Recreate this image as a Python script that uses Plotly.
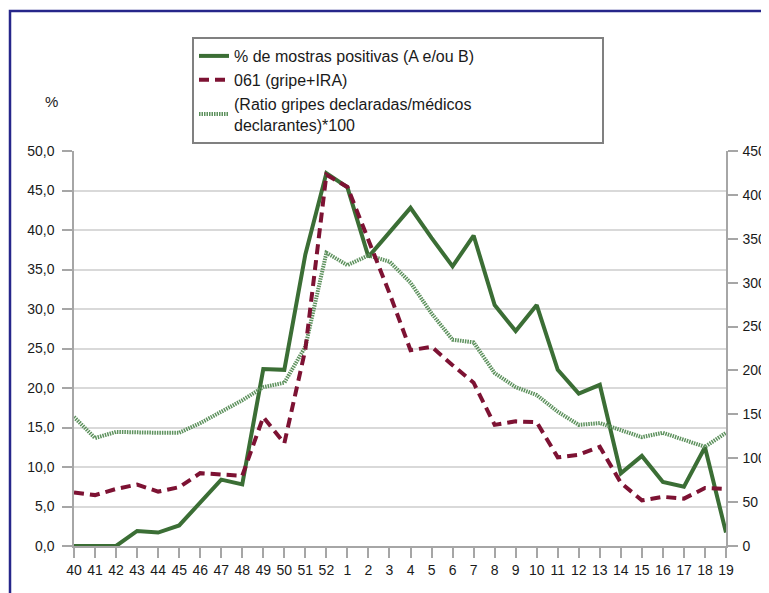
import plotly.graph_objects as go

# semanas epidemiológicas (40..52, 1..19)
weeks = [str(w) for w in range(40, 53)] + [str(w) for w in range(1, 20)]

# % de mostras positivas (eixo esquerdo)
pct_positive = [0.0, 0.0, 0.0, 1.9, 1.7, 2.6, 5.5, 8.4, 7.8, 22.4, 22.3, 36.9,
                47.2, 45.4, 36.6, 39.7, 42.8, 39.0, 35.4, 39.3, 30.5, 27.2, 30.5,
                22.3, 19.3, 20.4, 9.2, 11.4, 8.1, 7.5, 12.5, 1.7]

# 061 (gripe+IRA) (eixo direito)
calls_061 = [61, 58, 65, 70, 62, 67, 83, 82, 80, 147, 117, 224,
             423, 409, 349, 288, 223, 227, 206, 186, 138, 142, 141,
             101, 104, 113, 72, 52, 56, 54, 66, 65]

# (Ratio gripes declaradas/médicos declarantes)*100 (eixo direito)
ratio_gp = [147, 123, 130, 129, 129, 129, 140, 153, 166, 181, 186, 227,
            334, 320, 331, 324, 300, 265, 235, 232, 197, 181, 172,
            153, 138, 140, 132, 124, 129, 121, 113, 129]

x_idx = list(range(len(weeks)))

font_family = "Liberation Sans, Arial, sans-serif"
axis_grey = "#a6a6a6"

# the page body has an 8px margin, so the figure is sized to the visible window
W, H = 761, 585
L, R, T, B = 66, 43, 143, 47
pw, ph = W - L - R, H - T - B


def px_x(x):
    return (x - 8 - L) / pw


def px_y(y):
    return (H - B - (y - 8)) / ph


fig = go.Figure()

fig.add_trace(go.Scatter(x=x_idx, y=pct_positive, mode="lines", yaxis="y",
                         name="% de mostras positivas (A e/ou B)",
                         line=dict(color="#3B6E35", width=4), legendrank=1))
fig.add_trace(go.Scatter(x=x_idx, y=ratio_gp, mode="lines", yaxis="y2",
                         name="(Ratio gripes declaradas/médicos<br>declarantes)*100",
                         line=dict(color="#5d915d", width=4, dash="1.5px,1px"), legendrank=3))
fig.add_trace(go.Scatter(x=x_idx, y=calls_061, mode="lines", yaxis="y2",
                         name="061 (gripe+IRA)",
                         line=dict(color="#7D1233", width=4, dash="10px,6px"), legendrank=2))

fig.update_layout(
    template="none",
    width=W, height=H,
    margin=dict(l=L, r=R, t=T, b=B),
    paper_bgcolor="white", plot_bgcolor="white",
    separators=",.",
    font=dict(family=font_family, size=14, color="#1a1a1a"),
    xaxis=dict(range=[0, 31], tickmode="array", tickvals=x_idx, ticktext=weeks,
               tickangle=0, showgrid=False, zeroline=False, showline=True,
               linecolor=axis_grey, linewidth=1.5, ticks="outside", ticklen=10,
               tickcolor=axis_grey, tickwidth=1.5, automargin=False,
               ticklabelstandoff=0),
    yaxis=dict(range=[0, 50], dtick=5, tickformat=".1f", showgrid=True,
               gridcolor="#d9d9d9", gridwidth=1.5, zeroline=False, showline=True,
               linecolor=axis_grey, linewidth=1.5, ticks="outside", ticklen=10,
               tickcolor=axis_grey, tickwidth=1.5, automargin=False,
               ticklabelstandoff=5),
    yaxis2=dict(range=[0, 450], dtick=50, overlaying="y", side="right",
                showgrid=False, zeroline=False, showline=True,
                linecolor=axis_grey, linewidth=1.5, ticks="outside", ticklen=10,
                tickcolor=axis_grey, tickwidth=1.5, automargin=False,
                ticklabelstandoff=2),
    legend=dict(x=px_x(192), y=px_y(37), xanchor="left", yanchor="top",
                orientation="h", entrywidth=363, entrywidthmode="pixels",
                bgcolor="white", bordercolor="#808080", borderwidth=2,
                font=dict(size=16, color="#1a1a1a")),
    showlegend=True,
)

# moldura azul do gráfico
fig.add_shape(type="rect", xref="paper", yref="paper",
              x0=px_x(10), x1=px_x(800), y0=px_y(640), y1=px_y(11),
              line=dict(color="#26268a", width=2.5), fillcolor="rgba(0,0,0,0)",
              layer="below")

fig.add_annotation(text="%", xref="paper", yref="paper",
                   x=px_x(51), y=px_y(101), xanchor="center", yanchor="middle",
                   showarrow=False, font=dict(size=15, color="#1a1a1a"))

fig.write_html("out.html")
